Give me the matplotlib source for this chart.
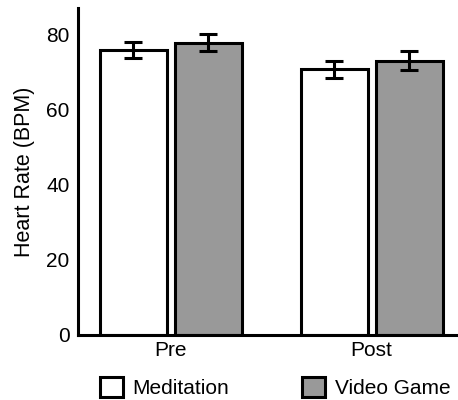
import matplotlib
matplotlib.use("Agg")
import matplotlib.pyplot as plt
import numpy as np

plt.rcParams['font.family'] = ['Liberation Sans', 'DejaVu Sans']

groups = ["Pre", "Post"]
series = ["Meditation", "Video Game"]
meditation = [75.8, 70.7]
video_game = [77.8, 73.0]
med_err = [2.1, 2.3]
vg_err = [2.3, 2.5]
colors = ["white", "#999999"]

fig = plt.figure(figsize=(4.58, 4.0), dpi=100)
ax = fig.add_axes([0.170, 0.1625, 0.83, 0.8175])

x = np.arange(len(groups))
w = 0.333
gap = 0.04
ekw = dict(ecolor='black', elinewidth=2.2, capsize=6.5, capthick=2.2)
ax.bar(x - w/2 - gap/2, meditation, w, color=colors[0], edgecolor='black', linewidth=2.2,
       yerr=med_err, error_kw=ekw, label=series[0], zorder=2)
ax.bar(x + w/2 + gap/2, video_game, w, color=colors[1], edgecolor='black', linewidth=2.2,
       yerr=vg_err, error_kw=ekw, label=series[1], zorder=2)

ax.set_xlim(-0.463, 1.43)
ax.set_ylim(0, 87)
ax.set_yticks([0, 20, 40, 60, 80])
ax.set_xticks(x)
ax.set_xticklabels(groups)
ax.tick_params(axis='both', length=0, labelsize=15, pad=6)
ax.tick_params(axis='x', pad=4)
for s in ['top', 'right']:
    ax.spines[s].set_visible(False)
for s in ['left', 'bottom']:
    ax.spines[s].set_linewidth(2.2)
ax.set_ylabel("Heart Rate (BPM)", fontsize=15.5, labelpad=8)

fig.legend(loc='lower left', bbox_to_anchor=(0.178, -0.042), ncol=2, frameon=False,
           fontsize=15, handlelength=1.1, handleheight=1.1, columnspacing=3.5,
           handletextpad=0.45)

fig.savefig("out.png", dpi=100)
